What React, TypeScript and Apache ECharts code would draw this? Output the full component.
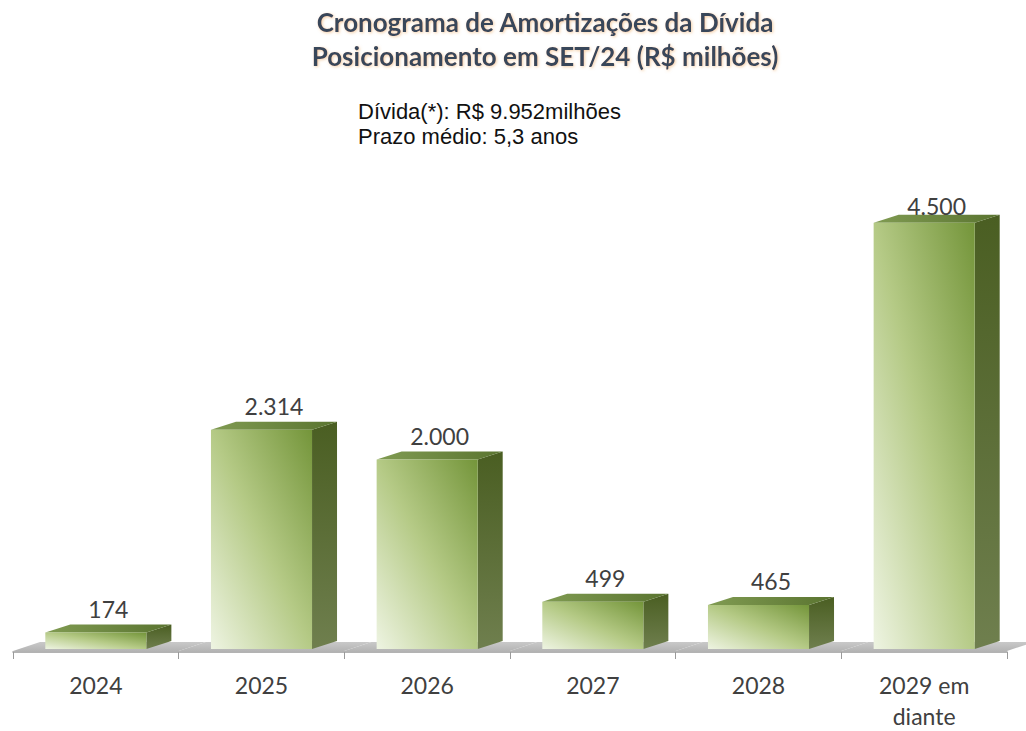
import React, { useEffect, useRef } from "react";
import * as echarts from "echarts";

const categories = ["2024", "2025", "2026", "2027", "2028", "2029 em\ndiante"];
const values = [174, 2314, 2000, 499, 465, 4500];
const titleLines = ["Cronograma de Amortizações da Dívida", "Posicionamento em SET/24 (R$ milhões)"];
const infoLines = ["Dívida(*): R$ 9.952milhões", "Prazo médio: 5,3 anos"];
const Y_MAX = 4800;

const fmt = (v: number) => String(v).replace(/\B(?=(\d{3})+(?!\d))/g, ".");

const BAR_RATIO = 0.61;
const DX = 25;
const DY = 8;
const LIFT = 3;

export default function App() {
  const ref = useRef<HTMLDivElement>(null);
  useEffect(() => {
    if (!ref.current) return;
    const chart = echarts.init(ref.current, null, { renderer: "svg" });

    const floorItem = (params: any, api: any) => {
      const idx = api.value(0);
      const base = api.coord([idx, 0]);
      const w = api.size([1, 0])[0];
      const x0 = base[0] - w / 2;
      const x1 = base[0] + w / 2;
      const yF = base[1] - 1;
      const yB = base[1] - 10;
      const d = 27;
      return {
        type: "polygon",
        shape: { points: [[x0, yF], [x1, yF], [x1 + d, yB], [x0 + d, yB]] },
        style: {
          fill: new echarts.graphic.LinearGradient(0, 0, 0, 1, [
            { offset: 0, color: "#c9c9c9" },
            { offset: 1, color: "#b4b4b4" },
          ]),
        },
      };
    };

    const barItem = (params: any, api: any) => {
      const idx = api.value(0);
      const v = api.value(1);
      const base = api.coord([idx, 0]);
      const top = api.coord([idx, v]);
      const maxPt = api.coord([idx, Y_MAX]);
      const w = api.size([1, 0])[0] * BAR_RATIO;
      const cx = base[0];
      const x0 = cx - w / 2;
      const x1 = cx + w / 2;
      const yb = base[1] - LIFT;
      const yt = top[1] - LIFT;
      const labelY = Math.max(yt - 24, maxPt[1] + 9);
      return {
        type: "group",
        children: [
          {
            type: "polygon",
            shape: { points: [[x1, yb], [x1, yt], [x1 + DX, yt - DY], [x1 + DX, yb - DY]] },
            style: {
              fill: new echarts.graphic.LinearGradient(0, 0, 0, 1, [
                { offset: 0, color: "#4a5e22" },
                { offset: 1, color: "#6f7f4e" },
              ]),
            },
          },
          {
            type: "polygon",
            shape: { points: [[x0, yt], [x1, yt], [x1 + DX, yt - DY], [x0 + DX, yt - DY]] },
            style: {
              fill: new echarts.graphic.LinearGradient(0, 0, 1, 0, [
                { offset: 0, color: "#809b52" },
                { offset: 1, color: "#5a7430" },
              ]),
            },
          },
          {
            type: "rect",
            shape: { x: x0, y: yt, width: w, height: yb - yt },
            style: {
              fill: new echarts.graphic.LinearGradient(0, 1, 1, 0, [
                { offset: 0, color: "#eef4e2" },
                { offset: 0.5, color: "#b5ca86" },
                { offset: 1, color: "#74953a" },
              ]),
            },
          },
          {
            type: "text",
            style: {
              text: fmt(v),
              x: cx + DX / 2,
              y: labelY,
              align: "center",
              verticalAlign: "middle",
              fontFamily: "Lato",
              fontSize: 23,
              fill: "#404040",
            },
          },
        ],
      };
    };

    chart.setOption({
      animation: false,
      backgroundColor: "#ffffff",
      title: [
        {
          text: titleLines.join("\n"),
          left: 540,
          top: 0,
          textAlign: "center",
          textStyle: {
            fontFamily: "Lato",
            fontWeight: "bold",
            fontSize: 26,
            lineHeight: 34,
            color: "#37465a",
            textShadowColor: "rgba(235,160,80,0.5)",
            textShadowBlur: 3,
            textShadowOffsetX: 1,
            textShadowOffsetY: 1,
          },
        },
        {
          text: infoLines.join("\n"),
          left: 353,
          top: 94,
          textStyle: {
            fontFamily: "Liberation Sans",
            fontWeight: "normal",
            fontSize: 22,
            lineHeight: 25,
            color: "#111111",
          },
        },
      ],
      grid: { left: 13, right: 19, top: 655 - Y_MAX * (429 / 4500), bottom: 76 },
      xAxis: {
        type: "category",
        data: categories,
        boundaryGap: true,
        axisLine: { lineStyle: { color: "#9a9a9a", width: 1.5 } },
        axisTick: { show: true, length: 7, lineStyle: { color: "#9a9a9a" } },
        axisLabel: {
          fontFamily: "Lato",
          fontSize: 23,
          color: "#404040",
          lineHeight: 31,
          margin: 17,
          interval: 0,
        },
      },
      yAxis: { type: "value", min: 0, max: Y_MAX, show: false, splitLine: { show: false } },
      series: [
        {
          type: "custom",
          z: 1,
          renderItem: floorItem,
          data: categories.map((c, i) => [i, 0]),
          silent: true,
          clip: false,
        },
        {
          type: "custom",
          z: 2,
          renderItem: barItem,
          data: values.map((v, i) => [i, v]),
          clip: false,
        },
      ],
    });
    return () => chart.dispose();
  }, []);
  return (
    <div
      ref={ref}
      style={{ position: "fixed", left: 0, top: 0, width: 1026, height: 731 }}
    />
  );
}
